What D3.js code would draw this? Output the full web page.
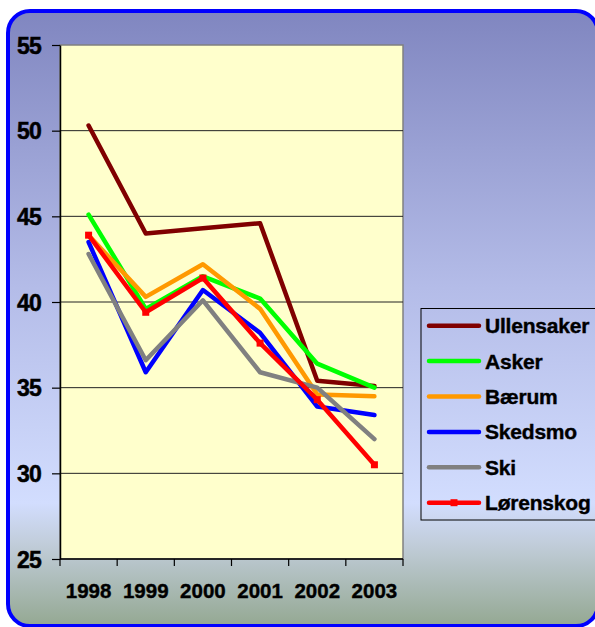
<!DOCTYPE html>
<html>
<head>
<meta charset="utf-8">
<script src="https://cdn.jsdelivr.net/npm/d3@7"></script>
<style>
  body { margin: 0; background: #fff; }
  svg { display: block; font-family: "Liberation Sans", Arial, sans-serif; }
</style>
</head>
<body>
<div id="chart"></div>
<script>
// Chart data
const years = ['1998', '1999', '2000', '2001', '2002', '2003'];
const yTicks = [25, 30, 35, 40, 45, 50, 55];

const ullensaker = [50.3, 44.0, 44.3, 44.6, 35.4, 35.1];
const asker      = [45.1, 39.6, 41.5, 40.2, 36.4, 35.0];
const baerum     = [43.9, 40.3, 42.2, 39.6, 34.6, 34.5];
const skedsmo    = [43.5, 35.9, 40.7, 38.2, 33.9, 33.4];
const ski        = [42.8, 36.6, 40.1, 35.9, 35.0, 32.0];
const lorenskog  = [43.9, 39.4, 41.4, 37.6, 34.3, 30.5];

const seriesNames = ['Ullensaker', 'Asker', 'Bærum', 'Skedsmo', 'Ski', 'Lørenskog'];
const seriesValues = [ullensaker, asker, baerum, skedsmo, ski, lorenskog];
const seriesColors = ['#800000', '#00ff00', '#ff9900', '#0000ff', '#808080', '#ff0000'];

const width = 595, height = 627;
const plot = { left: 60, top: 45, right: 403, bottom: 559 };
const fontFamily = '"Liberation Sans", Arial, sans-serif';

const svg = d3.select('#chart').append('svg')
    .attr('width', width)
    .attr('height', height);

// Background gradient
const defs = svg.append('defs');
const bg = defs.append('linearGradient')
    .attr('id', 'bg-grad')
    .attr('x1', 0).attr('y1', 0).attr('x2', 0).attr('y2', 1);
[[0, '#8086c0'], [0.45, '#b4bce8'], [0.8, '#d2ddfe'], [0.87, '#c0ccd8'], [1, '#94a892']]
    .forEach(([o, c]) => bg.append('stop').attr('offset', o).attr('stop-color', c));

// Rounded frame
svg.append('rect')
    .attr('x', 8).attr('y', 11)
    .attr('width', 590).attr('height', 615)
    .attr('rx', 22).attr('ry', 22)
    .attr('fill', 'url(#bg-grad)')
    .attr('stroke', '#0000ff')
    .attr('stroke-width', 4);

// Scales
const x = d3.scaleBand()
    .domain(years)
    .range([plot.left, plot.right]);

const y = d3.scaleLinear()
    .domain([25, 55])
    .range([plot.bottom, plot.top]);

// Plot area
svg.append('rect')
    .attr('x', plot.left)
    .attr('y', plot.top)
    .attr('width', plot.right - plot.left)
    .attr('height', plot.bottom - plot.top)
    .attr('fill', '#ffffcc')
    .attr('stroke', '#808080')
    .attr('stroke-width', 1.5);

// Gridlines
svg.append('g')
    .selectAll('line')
    .data(yTicks.filter(d => d > 25 && d < 55))
    .enter()
    .append('line')
    .attr('x1', plot.left)
    .attr('x2', plot.right)
    .attr('y1', d => y(d))
    .attr('y2', d => y(d))
    .attr('stroke', '#222')
    .attr('stroke-width', 1);

// Y axis
const yAxis = svg.append('g')
    .attr('transform', `translate(${plot.left},0)`)
    .call(d3.axisLeft(y)
        .tickValues(yTicks)
        .tickSize(8)
        .tickPadding(11)
        .tickSizeOuter(0))
    .attr('font-family', fontFamily)
    .attr('font-size', 23)
    .attr('font-weight', 'bold');
yAxis.select('.domain').attr('stroke', '#000').attr('stroke-width', 1.5);
yAxis.selectAll('.tick line').attr('stroke', '#000').attr('stroke-width', 1.2);
yAxis.selectAll('.tick text')
    .attr('fill', '#000')
    .attr('stroke', '#000')
    .attr('stroke-width', 0.5)
    .attr('letter-spacing', '-0.8')
    .attr('dy', '0.36em');

// X axis: ticks at category boundaries, labels centred in bands
const xAxis = svg.append('g')
    .attr('font-family', fontFamily)
    .attr('font-size', 20.5)
    .attr('font-weight', 'bold');
xAxis.append('line')
    .attr('x1', plot.left)
    .attr('x2', plot.right)
    .attr('y1', plot.bottom)
    .attr('y2', plot.bottom)
    .attr('stroke', '#000')
    .attr('stroke-width', 1.5);
xAxis.selectAll('.xtick')
    .data(years.map(d => x(d)).concat([x.range()[1]]))
    .enter()
    .append('line')
    .attr('class', 'xtick')
    .attr('x1', d => d)
    .attr('x2', d => d)
    .attr('y1', plot.bottom)
    .attr('y2', plot.bottom + 7)
    .attr('stroke', '#000')
    .attr('stroke-width', 1.2);
xAxis.selectAll('.xlabel')
    .data(years)
    .enter()
    .append('text')
    .attr('class', 'xlabel')
    .attr('x', d => x(d) + x.bandwidth() / 2)
    .attr('y', 598)
    .attr('text-anchor', 'middle')
    .attr('stroke', '#000')
    .attr('stroke-width', 0.4)
    .text(d => d);

// Lines
const line = d3.line()
    .x((d, i) => x(years[i]) + x.bandwidth() / 2)
    .y(d => y(d));

const seriesGroup = svg.append('g');
seriesValues.forEach((vals, i) => {
    seriesGroup.append('path')
        .datum(vals)
        .attr('d', line)
        .attr('fill', 'none')
        .attr('stroke', seriesColors[i])
        .attr('stroke-width', 4.5)
        .attr('stroke-linejoin', 'round')
        .attr('stroke-linecap', 'round');
});

// Square markers for Lørenskog
seriesGroup.selectAll('.marker')
    .data(lorenskog)
    .enter()
    .append('rect')
    .attr('class', 'marker')
    .attr('x', (d, i) => x(years[i]) + x.bandwidth() / 2 - 3.5)
    .attr('y', d => y(d) - 3.5)
    .attr('width', 7)
    .attr('height', 7)
    .attr('fill', '#ff0000');

// Legend
const legend = svg.append('g')
    .attr('class', 'legend')
    .attr('font-family', fontFamily)
    .attr('font-size', 21)
    .attr('font-weight', 'bold');
legend.append('rect')
    .attr('x', 421)
    .attr('y', 308.5)
    .attr('width', 200)
    .attr('height', 211.5)
    .attr('fill', 'none')
    .attr('stroke', '#000')
    .attr('stroke-width', 1);

seriesNames.forEach((name, i) => {
    const ly = 325.7 + i * 35.4;
    legend.append('line')
        .attr('x1', 429)
        .attr('x2', 479)
        .attr('y1', ly)
        .attr('y2', ly)
        .attr('stroke', seriesColors[i])
        .attr('stroke-width', 4.5)
        .attr('stroke-linecap', 'round');
    if (name === 'Lørenskog') {
        legend.append('rect')
            .attr('x', 454 - 3.5)
            .attr('y', ly - 3.5)
            .attr('width', 7)
            .attr('height', 7)
            .attr('fill', '#ff0000');
    }
    legend.append('text')
        .attr('x', 485)
        .attr('y', ly + 7.5)
        .attr('stroke', '#000')
        .attr('stroke-width', 0.4)
        .attr('letter-spacing', '-0.2')
        .text(name);
});
</script>
</body>
</html>
